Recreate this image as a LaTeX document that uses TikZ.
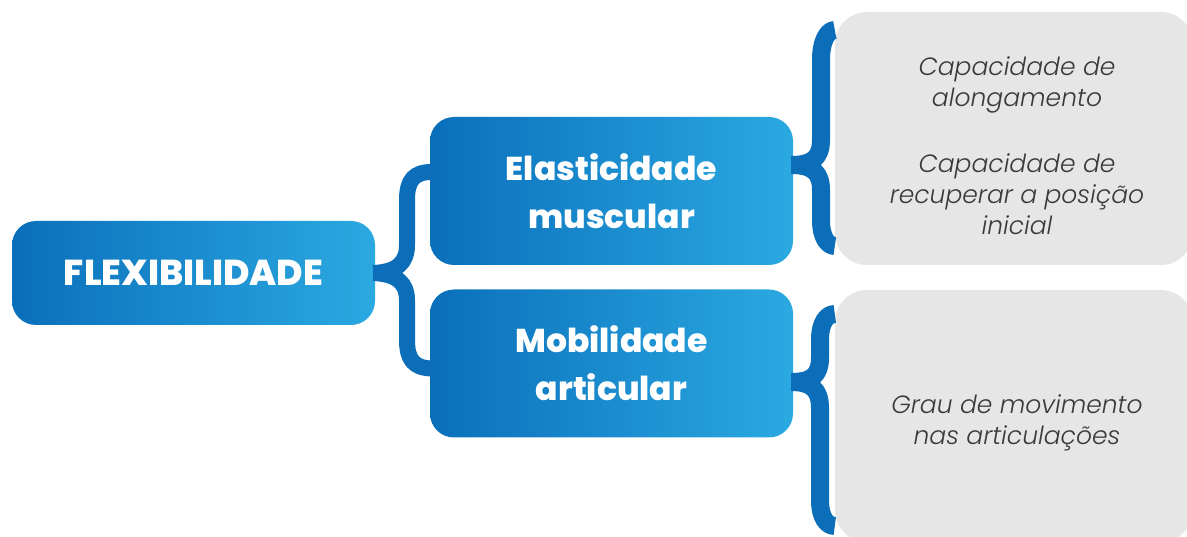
\documentclass[tikz,border=0pt]{standalone}
\usepackage{fontspec}
\setmainfont{Poppins}
\newfontfamily\lightit{Poppins Light Italic}
\newfontfamily\heavy{Poppins ExtraBold}
\definecolor{bL}{HTML}{0A6FBB}
\definecolor{bR}{HTML}{2BA9E1}
\definecolor{brc}{HTML}{0C6DB8}
\definecolor{gbox}{HTML}{E6E6E6}
\definecolor{gtxt}{HTML}{3A3A3A}
\tikzset{
  bluebox/.style={rounded corners=24pt, left color=bL, right color=bR, draw=none,
    minimum width=363pt, text=white, align=center, font=\heavy\fontsize{33}{48}\selectfont},
  graybox/.style={rounded corners=32pt, fill=gbox, draw=none, minimum width=358pt},
  gtext/.style={text=gtxt, align=center, font=\lightit\fontsize{25}{31}\selectfont},
  brace/.style={draw=brc, line width=16pt, line join=round},
}
\begin{document}
\begin{tikzpicture}[x=1pt,y=-1pt]
\useasboundingbox (0,0) rectangle (1187,537);
\node[bluebox, minimum height=104pt, font=\heavy\fontsize{36}{48}\selectfont] (flex) at (193.5,273) {FLEXIBILIDADE};
\node[bluebox, minimum height=148pt] (ela) at (611.5,191) {Elasticidade\\muscular};
\node[bluebox, minimum height=148pt] (mob) at (611.5,363.5) {Mobilidade\\articular};
\node[graybox, minimum height=253pt] (g1) at (1014,138.5) {};
\node[graybox, minimum height=252pt] (g2) at (1014,416) {};
\node[gtext] (t1) at (1017,85) {Capacidade de\\alongamento};
\node[gtext] (t2) at (1017,194) {Capacidade de\\recuperar a posição\\inicial};
\node[gtext] (t3) at (1017,423) {Grau de movimento\\nas articulações};
% left brace
\draw[brace] ([xshift=-2pt]flex.east) .. controls (398,272) and (407,262) .. (407,245) -- (407,200)
  .. controls (407,180) and (414,172) .. ([yshift=19pt,xshift=2pt]ela.west);
\draw[brace] ([xshift=-2pt]flex.east) .. controls (398,274) and (407,284) .. (407,300) -- (407,340)
  .. controls (407,360) and (414,368) .. ([yshift=-5pt,xshift=2pt]mob.west);
% right brace 1
\draw[brace, line width=18pt] ([xshift=-2pt]ela.east |- 0,165) .. controls (812,165) and (821,158) .. (821,140) -- (821,60)
  .. controls (821,40) and (828,30) .. (g1.west |- 0,30);
\draw[brace, line width=18pt] ([xshift=-2pt]ela.east |- 0,165) .. controls (812,165) and (821,172) .. (821,190) -- (821,220)
  .. controls (821,238) and (828,246) .. (g1.west |- 0,246);
% right brace 2
\draw[brace, line width=18pt] ([xshift=-2pt]mob.east |- 0,382) .. controls (812,382) and (820,375) .. (820,358) -- (820,340)
  .. controls (820,322) and (827,314) .. (g2.west |- 0,314);
\draw[brace, line width=18pt] ([xshift=-2pt]mob.east |- 0,382) .. controls (812,382) and (820,390) .. (820,408) -- (820,500)
  .. controls (820,518) and (827,526) .. (g2.west |- 0,526);
\end{tikzpicture}
\end{document}
